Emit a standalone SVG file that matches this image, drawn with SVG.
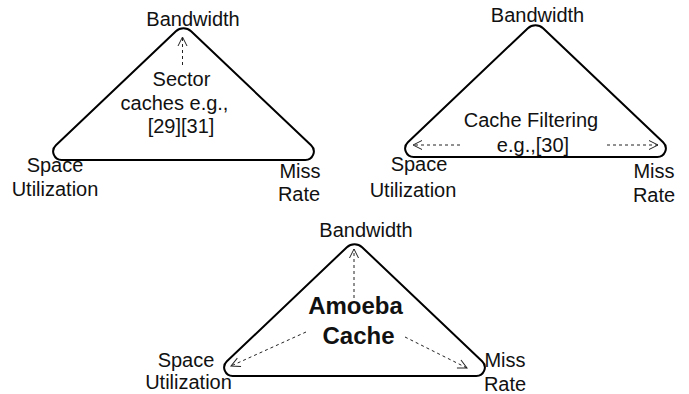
<svg xmlns="http://www.w3.org/2000/svg" xmlns:xlink="http://www.w3.org/1999/xlink" width="689" height="394" viewBox="0 0 689 394">
  <style>
    .tri { fill: #fff; stroke: #000; stroke-width: 2; stroke-linejoin: round; }
    .lbl { font-family: "Liberation Sans", Arial, Helvetica, sans-serif; font-size: 20px; fill: #111; text-anchor: middle; }
    .bold { font-weight: bold; font-size: 24px; }
    .dash { fill: none; stroke: #222; stroke-width: 1; stroke-dasharray: 3 3; marker-end: url(#open); }
  </style>
  <defs>
    <!-- rounded triangle shared by all three panels -->
    <path id="rtri" d="M175.9,31.2 A11,11 0 0 1 191.1,31.2 L311.1,145.3 A8.5,8.5 0 0 1 305.2,160 L61.8,160 A8.5,8.5 0 0 1 55.9,145.3 Z"/>
    <marker id="open" markerUnits="userSpaceOnUse" markerWidth="12" markerHeight="12" viewBox="0 0 12 12" refX="10" refY="6" orient="auto">
      <path d="M1,1.5 L10,6 L1,10.5" fill="none" stroke="#222" stroke-width="1" stroke-dasharray="none"/>
    </marker>
  </defs>

  <!-- Panel 1: sector caches -->
  <g id="sector">
    <use xlink:href="#rtri" class="tri"/>
    <text class="lbl" x="193" y="26">Bandwidth</text>
    <text class="lbl" x="181.5" y="86">Sector</text>
    <text class="lbl" x="174.5" y="110">caches e.g.,</text>
    <text class="lbl" x="181" y="133">[29][31]</text>
    <text class="lbl" x="55" y="171.5">Space</text>
    <text class="lbl" x="55" y="196">Utilization</text>
    <text class="lbl" x="300" y="178">Miss</text>
    <text class="lbl" x="299" y="201">Rate</text>
  </g>

  <!-- Panel 2: cache filtering -->
  <g id="filtering">
    <use xlink:href="#rtri" class="tri" transform="translate(352,-3)"/>
    <text class="lbl" x="537.5" y="22">Bandwidth</text>
    <text class="lbl" x="531" y="127">Cache Filtering</text>
    <text class="lbl" x="533" y="151.5">e.g.,[30]</text>
    <text class="lbl" x="419" y="171">Space</text>
    <text class="lbl" x="413" y="196.5">Utilization</text>
    <text class="lbl" x="654" y="178">Miss</text>
    <text class="lbl" x="654" y="202">Rate</text>
  </g>

  <!-- Panel 3: Amoeba cache -->
  <g id="amoeba">
    <use xlink:href="#rtri" class="tri" transform="translate(171,216)"/>
    <text class="lbl" x="366" y="236.5">Bandwidth</text>
    <text class="lbl bold" x="355.5" y="313.5">Amoeba</text>
    <text class="lbl bold" x="358.5" y="343.5">Cache</text>
    <text class="lbl" x="186" y="366.5">Space</text>
    <text class="lbl" x="188.5" y="388.5">Utilization</text>
    <text class="lbl" x="505" y="366.5">Miss</text>
    <text class="lbl" x="505" y="390.5">Rate</text>
  </g>

  <!-- dashed trade-off arrows -->
  <g id="connectors">
    <line class="dash" x1="182.5" y1="65" x2="182.5" y2="37"/>
    <line class="dash" x1="460" y1="145" x2="413" y2="145"/>
    <line class="dash" x1="607" y1="145" x2="658" y2="145"/>
    <line class="dash" x1="354" y1="298" x2="354" y2="249"/>
    <line class="dash" x1="306" y1="332" x2="231" y2="366"/>
    <line class="dash" x1="405" y1="337" x2="467" y2="368"/>
  </g>
</svg>
